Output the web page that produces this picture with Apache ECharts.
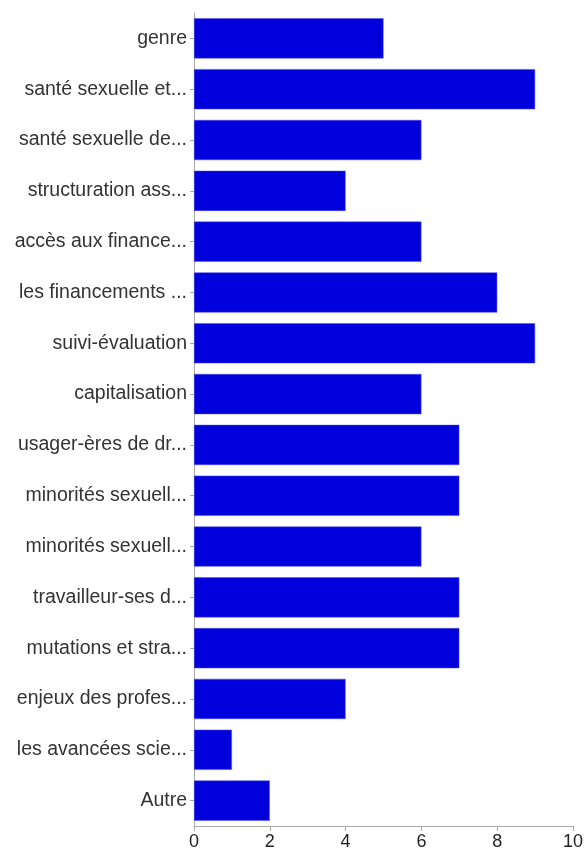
<!DOCTYPE html>
<html><head><meta charset="utf-8">
<script src="https://cdn.jsdelivr.net/npm/echarts@6/dist/echarts.min.js"></script>
<style>html,body{margin:0;padding:0;background:#fff}#c{width:587px;height:852px}</style>
</head><body><div id="c"></div>
<script>
const categories = ["genre","santé sexuelle et...","santé sexuelle de...","structuration ass...","accès aux finance...","les financements ...","suivi-évaluation","capitalisation","usager-ères de dr...","minorités sexuell...","minorités sexuell...","travailleur-ses d...","mutations et stra...","enjeux des profes...","les avancées scie...","Autre"];
const values = [5,9,6,4,6,8,9,6,7,7,6,7,7,4,1,2];
const xTicks = [0,2,4,6,8,10];

const chart = echarts.init(document.getElementById('c'), null, {renderer:'canvas'});
chart.setOption({
  animation:false,
  grid:{left:194,right:14,top:13,bottom:26,containLabel:false},
  xAxis:{type:'value',min:xTicks[0],max:xTicks[xTicks.length-1],interval:2,
    axisLine:{show:true,lineStyle:{color:'#aaa'}},
    axisTick:{show:true,length:5,lineStyle:{color:'#aaa'}},
    splitLine:{show:false},
    axisLabel:{color:'#222',fontSize:18,fontFamily:'Liberation Sans',margin:7}},
  yAxis:{type:'category',data:categories,inverse:true,
    axisLine:{show:true,lineStyle:{color:'#aaa'}},
    axisTick:{show:true,length:4,alignWithLabel:true,lineStyle:{color:'#aaa'}},
    axisLabel:{color:'#333',fontSize:19.5,fontFamily:'Liberation Sans',margin:7,interval:0}},
  series:[{type:'bar',data:values,barCategoryGap:'21%',
    itemStyle:{color:'#0000dd',borderColor:'#4d4dee',borderWidth:0.5}}]
});
</script></body></html>
